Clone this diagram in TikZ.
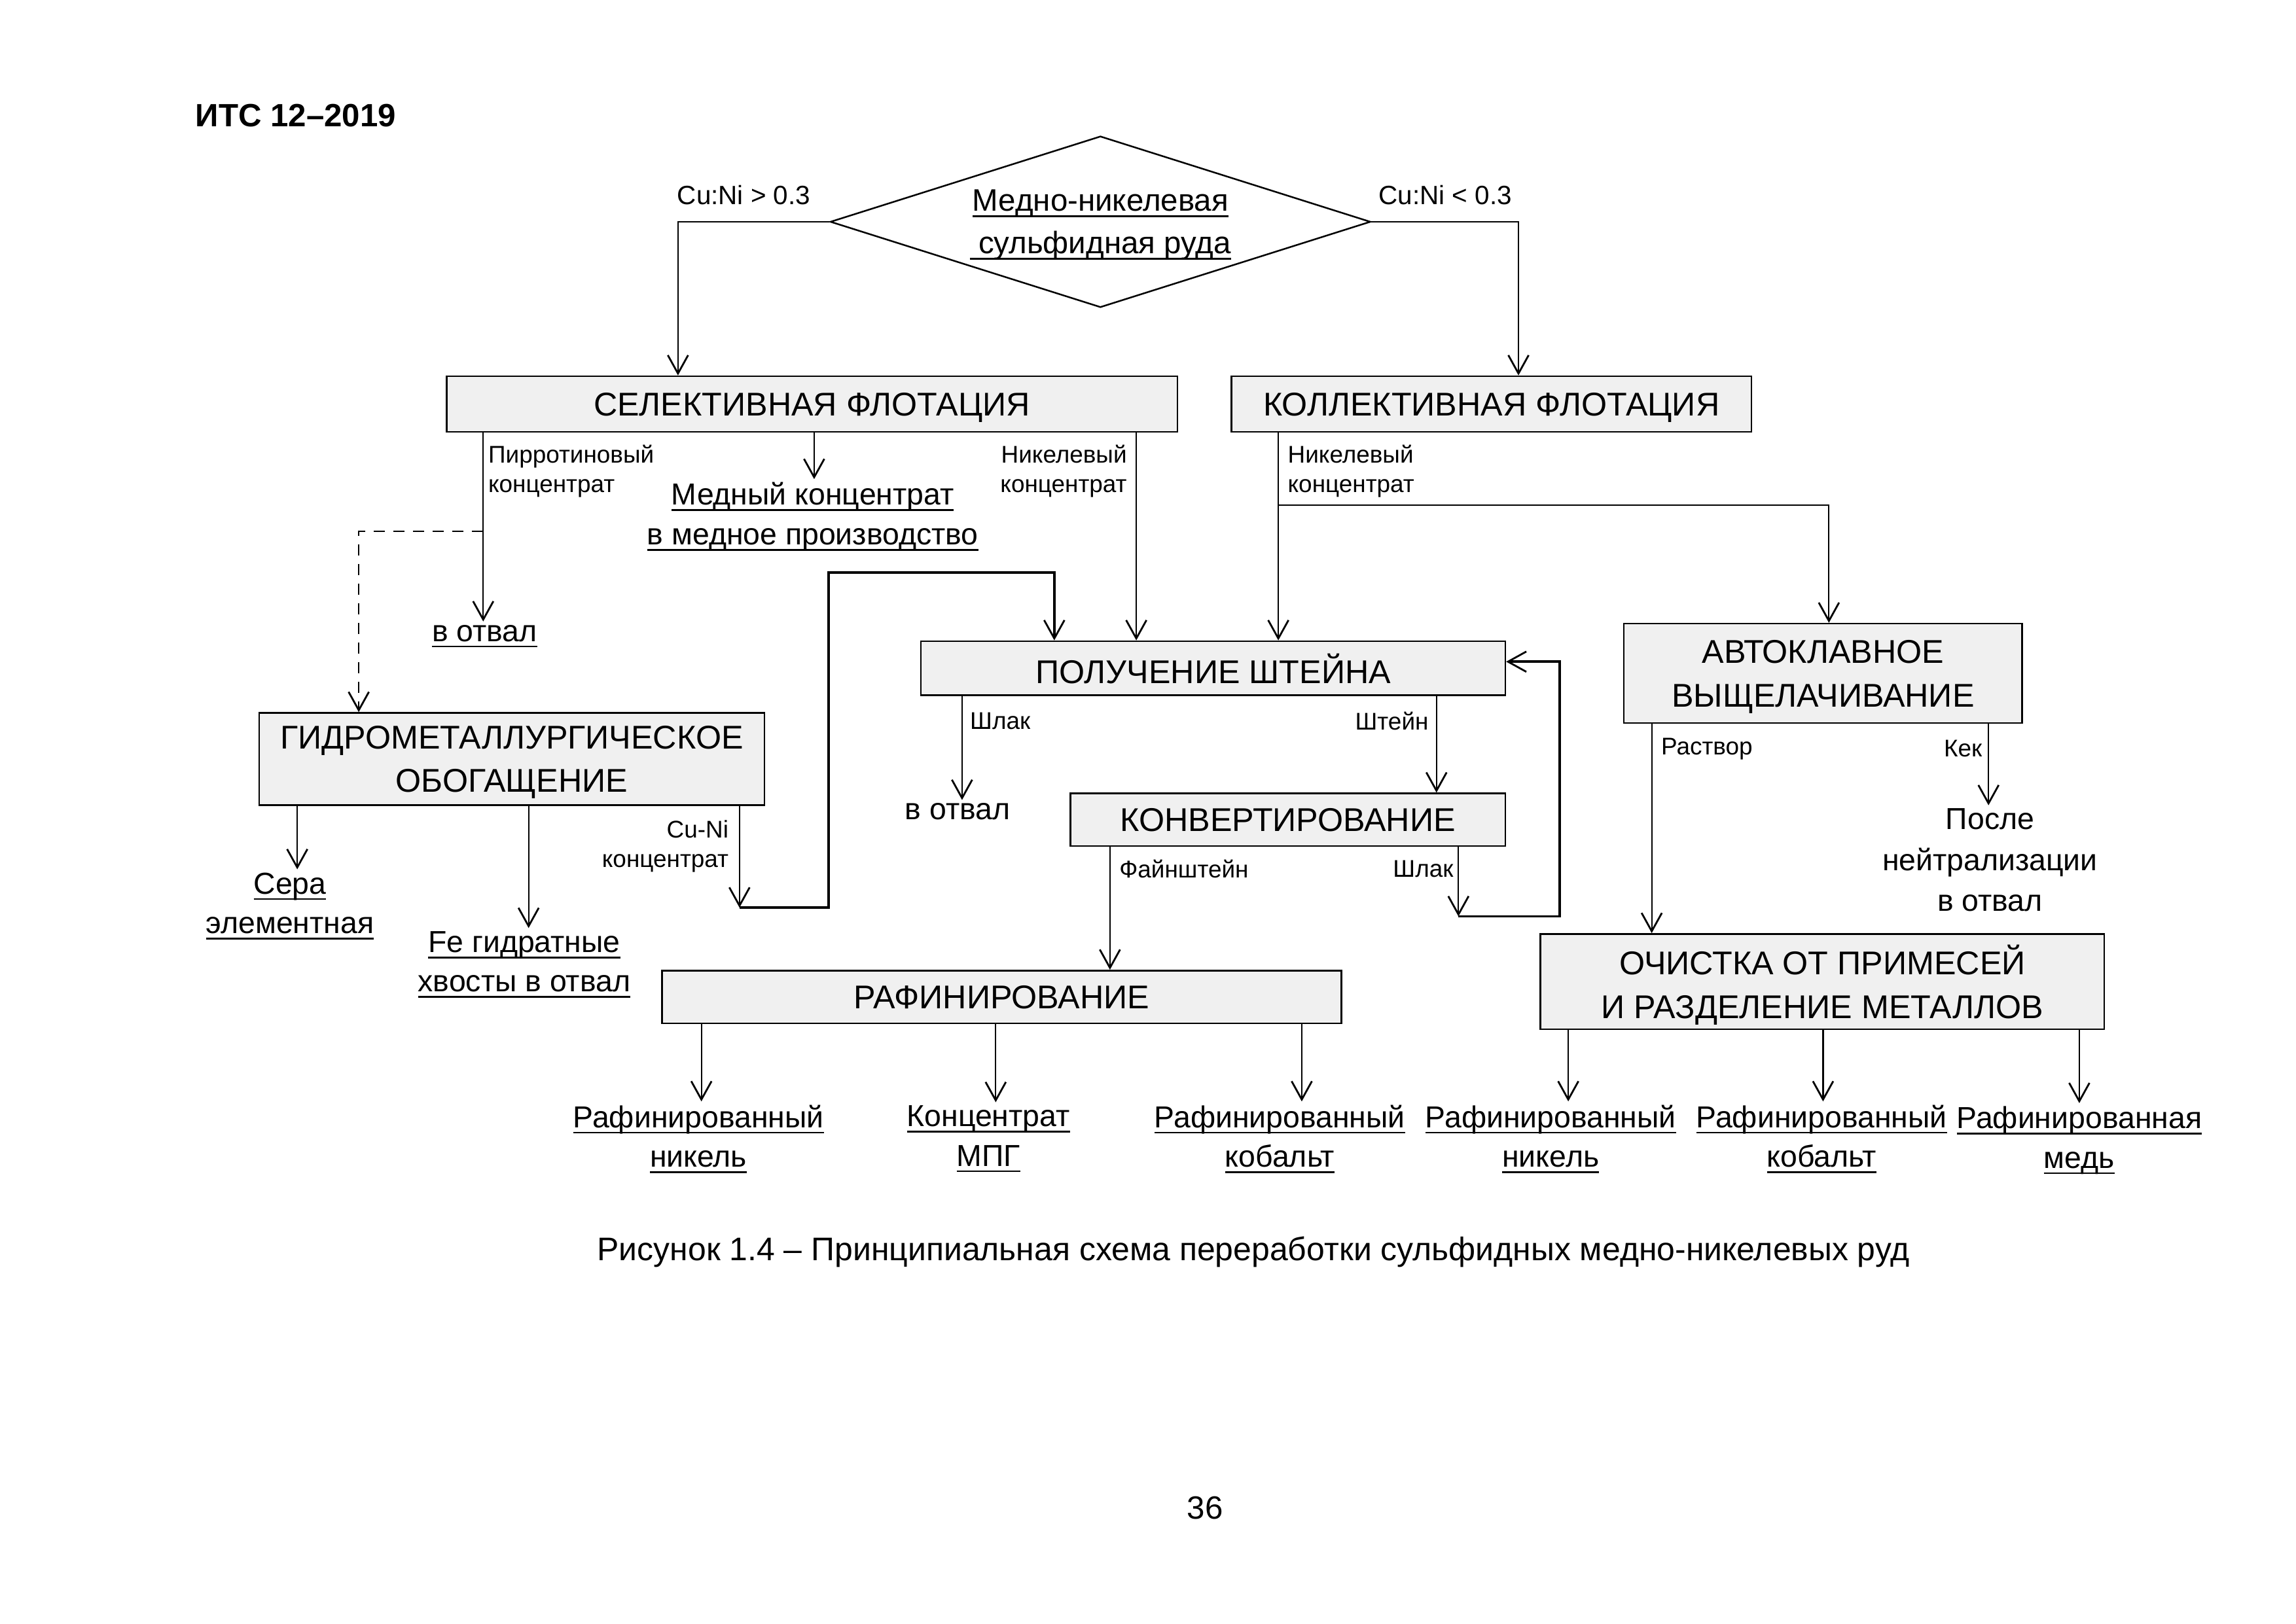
\documentclass[tikz,border=0pt]{standalone}
\usepackage{fontspec}
\setmainfont{Liberation Sans}
\usetikzlibrary{arrows.meta,shapes.geometric}
\newcommand{\myul}[1]{\setbox0\hbox{#1}\rlap{\rule[-2.6pt]{\wd0}{0.75pt}}\box0}
\begin{document}
\begin{tikzpicture}[x=0.22372mm,y=-0.22372mm,
  line width=0.22mm,
  arr/.style={-{Straight Barb[length=2.8mm,width=3.1mm,line width=0.28mm]}},
  thickln/.style={line width=0.38mm},
  box/.style 2 args={draw,line width=0.25mm,fill=gray!12,minimum width=#1*0.22372mm,minimum height=#2*0.22372mm,inner sep=0pt,text depth=0pt,font=\fontsize{14.3}{19}\selectfont,align=center},
  lbl/.style={font=\fontsize{10.5}{12.7}\selectfont,inner sep=0pt},
  cul/.style={font=\fontsize{11.5}{14}\selectfont,inner sep=0pt},
  outt/.style={font=\fontsize{13.2}{17.2}\selectfont,inner sep=0pt,outer sep=1.5pt,align=center},
  ]
\useasboundingbox[fill=white] (0,0) rectangle (1568,1109);

\node[font=\bfseries\fontsize{14}{17}\selectfont,inner sep=0pt] (hdr) at (202,79) {ИТС 12–2019};

\node[draw,diamond,aspect=3.15,minimum width=369*0.22372mm,minimum height=117*0.22372mm,inner sep=0pt,line width=0.25mm,align=center,text depth=0pt,font=\fontsize{13.5}{18.5}\selectfont] (ore) at (751.5,151.5) {\myul{Медно-никелевая}\\\myul{ сульфидная руда}};
\node[cul] (c1) at (508,133) {Cu:Ni > 0.3};
\node[cul] (c2) at (987,133) {Cu:Ni < 0.3};

\node[box={499}{38}] (sel) at (554.5,276) {СЕЛЕКТИВНАЯ ФЛОТАЦИЯ};
\node[box={355}{38}] (kol) at (1018.5,276) {КОЛЛЕКТИВНАЯ ФЛОТАЦИЯ};
\node[box={399}{37}] (pol) at (828.5,456.5) {ПОЛУЧЕНИЕ ШТЕЙНА};
\node[box={272}{68}] (avto) at (1245,460) {АВТОКЛАВНОЕ\\ВЫЩЕЛАЧИВАНИЕ};
\node[box={345}{63}] (gidro) at (349.5,518.5) {ГИДРОМЕТАЛЛУРГИЧЕСКОЕ\\ОБОГАЩЕНИЕ};
\node[box={297}{36}] (konv) at (879.5,560) {КОНВЕРТИРОВАНИЕ};
\node[box={464}{36}] (raf) at (684,681) {РАФИНИРОВАНИЕ};
\node[box={385}{65}] (och) at (1244.5,670.5) {ОЧИСТКА ОТ ПРИМЕСЕЙ\\И РАЗДЕЛЕНИЕ МЕТАЛЛОВ};

% output texts
\node[outt] (otv1) at (331,434.5) {\myul{в отвал}};
\node[outt] (med) at (555,353) {\myul{Медный концентрат}\\\myul{в медное производство}};
\node[outt] (sera) at (198,619) {\myul{Сера}\\\myul{элементная}};
\node[outt] (fe) at (358,659) {\myul{Fe гидратные}\\\myul{хвосты в отвал}};
\node[outt] (otv2) at (654,554.5) {в отвал};
\node[outt,font=\fontsize{13.2}{17.7}\selectfont] (posle) at (1359,587.5) {После\\нейтрализации\\в отвал};
\node[outt] (rni1) at (477,778) {\myul{Рафинированный}\\\myul{никель}};
\node[outt] (mpg) at (675,778) {\myul{Концентрат}\\\myul{МПГ}};
\node[outt] (rco1) at (874,778) {\myul{Рафинированный}\\\myul{кобальт}};
\node[outt] (rni2) at (1059,778) {\myul{Рафинированный}\\\myul{никель}};
\node[outt] (rco2) at (1244,778) {\myul{Рафинированный}\\\myul{кобальт}};
\node[outt] (rcu) at (1420,779) {\myul{Рафинированная}\\\myul{медь}};

% small labels
\node[lbl,anchor=west,align=left] (lpir) at (333,322) {Пирротиновый\\концентрат};
\node[lbl,anchor=east,align=right] (lni1) at (770,322) {Никелевый\\концентрат};
\node[lbl,anchor=west,align=left] (lni2) at (879,322) {Никелевый\\концентрат};
\node[lbl,anchor=east,align=right] (lcuni) at (498,578) {Cu-Ni\\концентрат};
\node[lbl,anchor=west] (lsl1) at (662,492.5) {Шлак};
\node[lbl,anchor=east] (lsht) at (976,492.5) {Штейн};
\node[lbl,anchor=west] (lfai) at (764,593.5) {Файнштейн};
\node[lbl,anchor=east] (lsl2) at (993,593.5) {Шлак};
\node[lbl,anchor=west] (lras) at (1134,511.5) {Раствор};
\node[lbl,anchor=east] (lkek) at (1354,511.5) {Кек};

% connectors
\draw[arr] (ore.west) -| (sel.north -| 463,0);
\draw[arr] (ore.east) -| (kol.north -| 1037,0);

\draw[arr] (sel.south -| 330,0) -- (otv1.north -| 330,0);
\coordinate (dj) at (330,363);
\draw[arr,dashed,dash pattern=on 1.7mm off 1.3mm] (dj) -| (gidro.north -| 245,0);
\draw[arr] (sel.south -| 556,0) -- (med.north -| 556,0);
\draw[arr] (sel.south -| 776,0) -- (pol.north -| 776,0);

\draw[arr] (kol.south -| 873,0) -- (pol.north -| 873,0);
\coordinate (kb) at (873,345);
\draw[arr] (kb) -| (avto.north -| 1249,0);

\draw[arr] (gidro.south -| 203,0) -- (sera.north -| 203,0);
\draw[arr] (gidro.south -| 361,0) -- (fe.north -| 361,0);
\coordinate (cn) at (505,620);
\draw[arr] (gidro.south -| 505,0) -- (cn);
\draw[arr,thickln] (cn) -- (566,620) -- (566,391) -| (pol.north -| 720,0);

\draw[arr] (pol.south -| 657,0) -- (otv2.north -| 657,0);
\draw[arr] (pol.south -| 981,0) -- (konv.north -| 981,0);

\draw[arr] (konv.south -| 758,0) -- (raf.north -| 758,0);
\coordinate (sl) at (996,626);
\draw[arr] (konv.south -| 996,0) -- (sl);
\draw[arr,thickln] (sl) -- (1065,626) |- (pol.east |- 0,452);

\draw[arr] (raf.south -| 479,0) -- (rni1.north -| 479,0);
\draw[arr] (raf.south -| 680,0) -- (mpg.north -| 680,0);
\draw[arr] (raf.south -| 889,0) -- (rco1.north -| 889,0);

\draw[arr] (avto.south -| 1128,0) -- (och.north -| 1128,0);
\draw[arr] (avto.south -| 1358,0) -- (posle.north -| 1358,0);

\draw[arr] (och.south -| 1071,0) -- (rni2.north -| 1071,0);
\draw[arr] (och.south -| 1245,0) -- (rco2.north -| 1245,0);
\draw[arr] (och.south -| 1420,0) -- (rcu.north -| 1420,0);

\node[font=\fontsize{14.2}{17}\selectfont,inner sep=0pt] (cap) at (856,855) {Рисунок 1.4 – Принципиальная схема переработки сульфидных медно-никелевых руд};
\node[font=\fontsize{14}{17}\selectfont,inner sep=0pt] (pg) at (823,1030) {36};
\end{tikzpicture}
\end{document}
